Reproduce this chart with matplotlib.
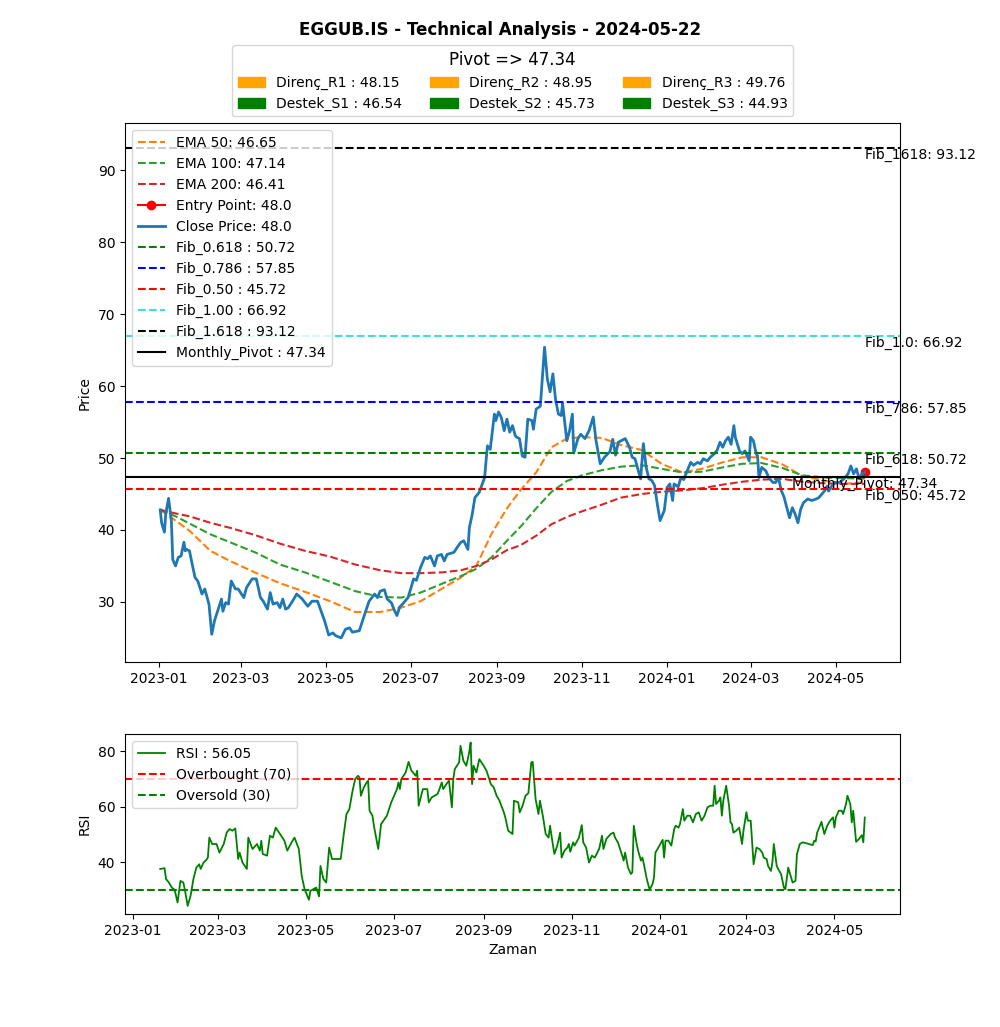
import pandas as pd
import matplotlib
matplotlib.use('Agg')
import matplotlib.pyplot as plt
import matplotlib.patches as mpatches

# Genel bilgiler
TICKER = 'EGGUB.IS'
REPORT_DATE = '2024-05-22'
START = pd.Timestamp('2023-01-01')  # gün sayıları bu tarihten itibaren

# Kapanış fiyatı: (gün, fiyat)
close_data = [
    (1, 42.8), (2, 41.0), (4, 39.7), (5, 42.3), (7, 44.4), (9, 41.3), (10, 35.9), (12, 35.0),
    (14, 36.2), (16, 36.4), (18, 38.3), (19, 37.1), (20, 37.3), (22, 37.1), (24, 35.2), (26, 33.4),
    (28, 32.9), (31, 31.1), (33, 31.8), (34, 31.1), (36, 29.7), (38, 25.5), (40, 27.4), (43, 29.2),
    (45, 30.4), (46, 28.7), (48, 29.9), (50, 29.7), (52, 32.9), (55, 31.8), (57, 31.8), (61, 30.6),
    (63, 32.0), (67, 33.2), (70, 33.2), (73, 30.6), (75, 30.1), (78, 29.0), (80, 31.3), (82, 29.7),
    (85, 29.9), (87, 29.2), (89, 30.4), (91, 29.0), (93, 29.2), (96, 30.1), (99, 31.1), (103, 30.4),
    (107, 29.4), (110, 30.1), (114, 30.1), (116, 29.0), (119, 27.4), (122, 25.4), (125, 25.7), (127, 25.3),
    (131, 25.0), (134, 26.2), (137, 26.4), (139, 25.8), (144, 26.0), (147, 27.8), (151, 30.1), (155, 31.1),
    (157, 30.6), (159, 31.5), (162, 31.7), (164, 30.4), (167, 29.9), (169, 28.9), (171, 28.1), (173, 29.3),
    (175, 29.7), (179, 30.6), (181, 31.9), (183, 33.2), (185, 33.0), (188, 34.8), (191, 36.2), (193, 36.0),
    (195, 36.4), (198, 35.0), (200, 36.4), (203, 36.6), (205, 35.7), (207, 36.6), (212, 36.9), (215, 37.8),
    (217, 38.3), (219, 38.5), (222, 37.3), (223, 40.3), (225, 42.1), (227, 44.5), (230, 45.2), (231, 45.7),
    (234, 47.3), (235, 49.6), (236, 51.7), (238, 51.2), (241, 56.1), (242, 55.2), (244, 56.4), (246, 55.6),
    (248, 53.8), (250, 55.4), (252, 53.6), (254, 54.5), (256, 53.1), (257, 52.9), (259, 52.7), (261, 50.3),
    (263, 50.1), (265, 55.4), (268, 55.2), (269, 54.0), (271, 56.8), (274, 57.2), (277, 65.4), (279, 61.0),
    (281, 59.2), (283, 61.7), (285, 58.0), (287, 56.1), (289, 55.9), (290, 57.6), (293, 52.4), (295, 53.8),
    (297, 56.1), (298, 50.7), (301, 52.7), (303, 53.3), (306, 52.7), (309, 53.8), (312, 55.7), (314, 52.4),
    (317, 49.2), (320, 50.1), (324, 50.9), (326, 52.6), (328, 50.4), (330, 52.2), (335, 52.7), (338, 51.5),
    (340, 50.1), (342, 49.9), (345, 47.8), (346, 47.1), (348, 52.0), (350, 48.7), (352, 47.1), (354, 46.9),
    (356, 46.2), (358, 43.6), (360, 41.3), (363, 42.7), (365, 45.9), (367, 46.4), (369, 44.1), (370, 46.4),
    (373, 46.0), (375, 47.3), (377, 47.0), (379, 48.0), (382, 49.4), (384, 49.0), (387, 49.4), (389, 49.2),
    (391, 49.9), (394, 49.6), (396, 50.1), (399, 50.6), (401, 51.1), (403, 52.2), (405, 51.5), (407, 52.4),
    (409, 52.9), (411, 51.9), (413, 54.5), (414, 52.9), (417, 51.0), (419, 50.6), (421, 51.0), (424, 49.6),
    (425, 52.9), (427, 52.4), (429, 50.6), (430, 50.3), (431, 47.3), (433, 48.7), (436, 48.2), (438, 47.3),
    (441, 46.6), (443, 46.6), (445, 47.3), (447, 45.5), (449, 44.6), (451, 43.1), (453, 41.7), (455, 43.1),
    (457, 42.2), (459, 41.0), (461, 42.9), (463, 43.8), (466, 44.3), (469, 44.1), (472, 44.3), (474, 44.5),
    (478, 45.4), (480, 46.1), (481, 45.4), (485, 46.6), (489, 46.6), (492, 47.1), (495, 47.8), (497, 48.9),
    (499, 47.8), (501, 48.5), (503, 47.1), (505, 47.8), (507, 48.0),
]

# EMA eğrileri (aynı gün noktalarında okunan değerler)
ema_days = [1, 12, 22, 37, 51, 69, 87, 105, 123, 141, 159, 174, 188, 203, 217, 228, 239, 250, 260,
            271, 282, 293, 304, 318, 332, 347, 361, 376, 390, 405, 419, 433, 448, 462, 477, 491, 507]
ema50 = [42.8, 41.3, 39.9, 37.1, 35.7, 34.1, 32.6, 31.4, 30.1, 28.6, 28.6, 29.2, 30.1, 31.8, 33.4,
         35.0, 39.5, 43.0, 45.6, 48.0, 51.5, 52.7, 52.9, 52.8, 51.8, 51.1, 49.2, 48.0, 48.5, 49.4,
         50.1, 50.1, 49.1, 47.5, 46.9, 46.4, 46.65]
ema100 = [42.8, 41.9, 40.9, 39.4, 38.3, 36.9, 35.2, 34.1, 32.8, 31.5, 30.7, 30.6, 31.3, 32.5, 33.6,
          34.6, 36.2, 38.5, 40.5, 43.0, 45.3, 46.8, 47.6, 48.3, 48.8, 49.0, 48.5, 48.0, 48.1, 48.7,
          49.2, 49.3, 48.6, 47.6, 47.3, 47.2, 47.14]
ema200 = [42.8, 42.3, 41.9, 41.0, 40.3, 39.3, 38.1, 37.1, 36.3, 35.2, 34.4, 34.0, 34.0, 34.1, 34.4,
          35.0, 35.9, 37.2, 37.9, 39.2, 40.8, 41.8, 42.6, 43.5, 44.5, 45.0, 45.3, 45.5, 45.8, 46.3,
          46.7, 47.0, 47.1, 46.7, 46.5, 46.4, 46.41]

# RSI: (gün, değer)
rsi_data = [
    (19, 37.5), (22, 37.8), (23, 33.9), (25, 32.6), (27, 30.8), (29, 30.0), (31, 25.4), (33, 33.2),
    (35, 32.6), (36, 30.2), (38, 24.2), (40, 27.8), (42, 33.9), (44, 38.0), (46, 39.2), (47, 37.5),
    (49, 39.8), (51, 40.8), (52, 41.6), (53, 48.8), (55, 46.5), (58, 46.5), (60, 43.4), (63, 46.5),
    (65, 50.6), (67, 51.9), (69, 51.3), (71, 52.1), (73, 41.1), (74, 43.4), (76, 39.8), (79, 37.5),
    (80, 48.8), (82, 45.9), (83, 44.7), (86, 46.5), (88, 44.1), (89, 47.7), (90, 42.9), (93, 42.3),
    (95, 49.5), (97, 48.8), (99, 52.4), (102, 50.1), (105, 47.7), (107, 44.1), (110, 47.1), (112, 48.8),
    (115, 44.7), (117, 35.0), (119, 30.2), (122, 26.4), (123, 29.6), (125, 30.2), (127, 30.8), (129, 27.6),
    (130, 38.6), (132, 33.9), (134, 32.6), (136, 45.2), (138, 41.1), (144, 41.1), (146, 49.5), (148, 57.3),
    (150, 59.1), (152, 65.1), (154, 69.9), (156, 71.1), (157, 70.5), (158, 63.9), (160, 66.9), (162, 68.7),
    (163, 69.3), (164, 58.5), (166, 56.7), (167, 53.1), (170, 44.7), (172, 53.7), (176, 56.7), (179, 61.5),
    (183, 66.3), (184, 68.7), (185, 66.3), (186, 69.9), (189, 72.3), (191, 76.1), (193, 72.9), (196, 71.1),
    (197, 72.9), (198, 60.3), (200, 64.5), (201, 66.3), (204, 66.3), (205, 61.5), (207, 63.3), (211, 64.5),
    (212, 65.7), (214, 68.7), (215, 66.3), (218, 68.7), (219, 69.3), (221, 59.7), (222, 69.9), (223, 73.5),
    (226, 75.9), (227, 81.9), (229, 76.5), (231, 74.7), (233, 79.5), (234, 83.1), (235, 68.1), (236, 74.7),
    (238, 72.3), (240, 77.1), (243, 74.7), (245, 72.9), (248, 68.1), (250, 66.9), (252, 63.9), (254, 62.1),
    (257, 57.9), (258, 56.1), (260, 51.3), (263, 50.1), (264, 62.1), (267, 61.5), (268, 57.9), (270, 60.3),
    (272, 63.9), (274, 64.8), (276, 75.9), (277, 76.1), (279, 62.7), (281, 57.3), (282, 62.1), (284, 56.7),
    (286, 50.1), (288, 48.8), (289, 53.1), (290, 49.5), (292, 42.9), (294, 45.9), (296, 50.6), (297, 41.6),
    (299, 44.1), (301, 45.2), (302, 46.5), (303, 43.7), (305, 47.1), (306, 45.9), (309, 48.8), (311, 53.3),
    (312, 47.1), (314, 45.2), (316, 39.8), (318, 42.3), (320, 41.6), (323, 44.7), (325, 49.5), (326, 44.7),
    (328, 48.3), (331, 50.1), (333, 50.6), (334, 48.8), (336, 47.1), (339, 42.3), (340, 40.5), (341, 43.4),
    (343, 38.0), (345, 35.7), (346, 36.3), (347, 53.1), (349, 46.5), (350, 44.1), (352, 40.5), (353, 41.6),
    (354, 39.2), (356, 33.9), (358, 30.0), (360, 32.1), (361, 34.4), (362, 43.4), (364, 45.2), (367, 48.0),
    (368, 41.6), (369, 47.7), (371, 47.7), (373, 45.9), (375, 51.9), (376, 53.1), (378, 52.4), (379, 53.7),
    (381, 59.1), (382, 54.9), (384, 56.7), (386, 56.7), (388, 54.3), (390, 57.3), (392, 57.9), (394, 54.9),
    (396, 56.7), (398, 59.7), (400, 60.3), (402, 60.3), (403, 67.5), (404, 60.9), (406, 62.1), (407, 63.3),
    (408, 56.7), (409, 62.1), (411, 67.5), (413, 60.3), (414, 54.3), (415, 53.7), (416, 50.6), (418, 51.3),
    (420, 52.4), (422, 46.5), (423, 51.3), (425, 58.0), (426, 54.9), (428, 54.9), (430, 39.2), (432, 45.2),
    (434, 44.7), (436, 43.4), (437, 41.6), (439, 41.1), (440, 38.6), (442, 36.8), (443, 39.8), (444, 46.5),
    (446, 38.6), (447, 37.5), (449, 35.7), (451, 30.8), (452, 30.2), (454, 38.0), (455, 36.2), (457, 32.6),
    (459, 33.2), (460, 42.8), (462, 46.5), (464, 47.1), (467, 46.7), (471, 46.1), (472, 47.7), (473, 47.4),
    (474, 50.6), (476, 53.1), (477, 54.5), (479, 50.1), (481, 53.1), (483, 54.9), (485, 56.1), (486, 52.4),
    (487, 56.1), (489, 58.5), (491, 58.5), (492, 57.3), (494, 60.9), (495, 63.9), (497, 60.9), (498, 54.3),
    (499, 58.5), (501, 47.3), (503, 48.3), (505, 49.7), (506, 47.1), (507, 56.05),
]

# Fibonacci seviyeleri
fib_names = ['Fib_0.618', 'Fib_0.786', 'Fib_0.50', 'Fib_1.00', 'Fib_1.618']
fib_tags = ['Fib_618', 'Fib_786', 'Fib_050', 'Fib_1.0', 'Fib_1618']
fib_values = [50.72, 57.85, 45.72, 66.92, 93.12]
fib_colors = ['green', 'blue', 'red', 'turquoise', 'black']

# Pivot seviyeleri
PIVOT = 47.34
res_names = ['Direnç_R1', 'Direnç_R2', 'Direnç_R3']
res_values = [48.15, 48.95, 49.76]
sup_names = ['Destek_S1', 'Destek_S2', 'Destek_S3']
sup_values = [46.54, 45.73, 44.93]

ENTRY = 48.0
LAST_CLOSE = 48.0
LAST_EMA = [46.65, 47.14, 46.41]
LAST_RSI = 56.05


def to_dates(days):
    return START + pd.to_timedelta(days, unit='D')


close_days, close_vals = zip(*close_data)
close_dates = to_dates(list(close_days))
ema_dates = to_dates(ema_days)
rsi_days, rsi_vals = zip(*rsi_data)
rsi_dates = to_dates(list(rsi_days))
last_date = close_dates[-1]

fig, (ax1, ax2) = plt.subplots(2, 1, figsize=(10, 10.27),
                               gridspec_kw={'height_ratios': [3, 1]})
fig.suptitle(f'{TICKER} - Technical Analysis - {REPORT_DATE}', fontweight='bold')

# Fiyat grafiği
ax1.plot(ema_dates, ema50, '--', color='C1', label=f'EMA 50: {LAST_EMA[0]}')
ax1.plot(ema_dates, ema100, '--', color='C2', label=f'EMA 100: {LAST_EMA[1]}')
ax1.plot(ema_dates, ema200, '--', color='C3', label=f'EMA 200: {LAST_EMA[2]}')
ax1.plot([last_date], [ENTRY], 'ro-', label=f'Entry Point: {ENTRY}')
ax1.plot(close_dates, close_vals, color='C0', lw=2, label=f'Close Price: {LAST_CLOSE}')

for name, tag, val, col in zip(fib_names, fib_tags, fib_values, fib_colors):
    ax1.axhline(val, color=col, linestyle='--', label=f'{name} : {val}')
    ax1.text(last_date, val, f'{tag}: {val}', ha='left', va='top')

ax1.axhline(PIVOT, color='black', label=f'Monthly_Pivot : {PIVOT}')
ax1.text(last_date, PIVOT, f'Monthly_Pivot: {PIVOT}', ha='center', va='top')
ax1.set_ylabel('Price')

# Pivot kutusu (üstte)
handles = []
for rn, rv, sn, sv in zip(res_names, res_values, sup_names, sup_values):
    handles.append(mpatches.Patch(color='orange', label=f'{rn} : {rv}'))
    handles.append(mpatches.Patch(color='green', label=f'{sn} : {sv}'))
pivot_leg = ax1.legend(handles=handles, loc='lower center', bbox_to_anchor=(0.5, 1.0),
                       ncol=3, title=f'Pivot => {PIVOT}', title_fontsize=12)
ax1.add_artist(pivot_leg)
ax1.legend(loc='upper left')

# RSI grafiği
ax2.plot(rsi_dates, rsi_vals, color='green', lw=1.3, label=f'RSI : {LAST_RSI}')
ax2.axhline(70, color='red', linestyle='--', label='Overbought (70)')
ax2.axhline(30, color='green', linestyle='--', label='Oversold (30)')
ax2.set_ylabel('RSI')
ax2.set_xlabel('Zaman')
ax2.legend(loc='upper left')

plt.savefig('out.png', dpi=100)
